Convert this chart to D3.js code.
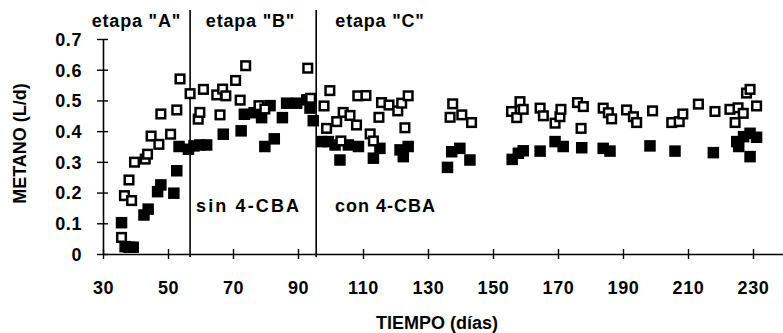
<!DOCTYPE html>
<html><head><meta charset="utf-8">
<script src="https://cdn.jsdelivr.net/npm/d3@7"></script>
<style>
body{margin:0;background:#fff}
svg{display:block}
text{font-family:"Liberation Sans",Arial,sans-serif;font-weight:bold;fill:#000}
</style>
</head><body><svg width="783" height="333"></svg>
<script>
// ---- data ----
const openDays = [35.7,36.6,38.0,38.8,39.7,43.0,43.7,44.8,47.2,47.8,50.8,52.7,53.7,56.8,
  59.3,59.8,60.9,65.0,66.0,66.8,67.8,70.8,72.2,73.9,78.0,79.8,93.0,93.9,
  98.0,98.8,99.8,101.9,103.2,103.9,106.0,108.0,108.4,110.9,112.2,113.2,114.9,115.7,118.0,120.7,121.9,122.9,123.9,
  136.8,137.6,140.4,143.4,155.7,157.3,158.3,159.3,164.5,165.5,169.1,170.6,170.9,176.0,177.1,177.8,
  183.9,185.5,186.5,191.1,193.2,194.2,199.1,205.0,207.3,208.4,213.2,218.3,222.9,224.5,225.4,227.0,228.0,229.1,231.1];
const openVals = [0.054,0.190,0.241,0.174,0.299,0.309,0.325,0.384,0.357,0.456,0.390,0.469,0.570,0.522,
  0.439,0.461,0.536,0.518,0.453,0.537,0.515,0.565,0.501,0.613,0.483,0.472,0.605,0.507,
  0.482,0.409,0.532,0.431,0.368,0.461,0.451,0.420,0.515,0.516,0.391,0.368,0.445,0.493,0.485,0.466,0.491,0.411,0.515,
  0.445,0.489,0.453,0.428,0.464,0.444,0.496,0.471,0.475,0.450,0.426,0.447,0.471,0.493,0.409,0.480,
  0.475,0.460,0.440,0.469,0.447,0.428,0.466,0.428,0.431,0.456,0.488,0.464,0.471,0.428,0.476,0.458,0.524,0.536,0.482];

const solidDays = [35.7,36.8,38.0,39.3,42.6,43.9,46.8,47.8,51.8,52.7,53.4,56.3,58.0,59.8,61.9,
  67.0,72.5,73.5,76.5,78.8,79.8,81.4,82.7,85.2,86.5,89.6,92.7,93.7,94.7,
  97.3,99.3,101.4,102.9,105.5,108.6,113.2,115.2,121.4,122.4,123.9,136.0,137.3,139.8,142.9,
  155.9,157.8,159.3,164.5,169.1,171.6,177.3,183.9,186.0,198.3,206.0,217.8,225.0,225.6,227.1,229.1,229.1,231.1];
const solidVals = [0.102,0.024,0.022,0.022,0.127,0.146,0.203,0.225,0.198,0.271,0.350,0.341,0.352,0.355,0.355,
  0.390,0.401,0.455,0.460,0.444,0.350,0.483,0.375,0.444,0.491,0.491,0.502,0.475,0.434,
  0.366,0.366,0.355,0.306,0.355,0.350,0.312,0.344,0.339,0.317,0.350,0.282,0.333,0.344,0.306,
  0.308,0.328,0.336,0.335,0.366,0.350,0.346,0.344,0.335,0.352,0.335,0.330,0.366,0.350,0.382,0.393,0.317,0.380];

const xTicks = [30,50,70,90,110,130,150,170,190,210,230];
const yTicks = [0,0.1,0.2,0.3,0.4,0.5,0.6,0.7];
const yTickLabels = ["0","0.1","0.2","0.3","0.4","0.5","0.6","0.7"];
const stageBounds = [56.8,95.6];
const stageLabels = ['etapa "A"','etapa "B"','etapa "C"'];
const treatLabels = ["sin 4-CBA","con 4-CBA"];
const xTitle = "TIEMPO (días)";
const yTitle = "METANO (L/d)";

// ---- scales ----
const svg = d3.select("svg");
const x = d3.scaleLinear().domain([30, 30 + 680/3.25]).range([103, 783]);
const y = d3.scaleLinear().domain([0, 0.7]).range([254, 39]);

// ---- axes ----
const gx = svg.append("g").attr("transform","translate(0,254)")
  .call(d3.axisBottom(x).tickValues(xTicks).tickSize(5).tickSizeOuter(0).tickPadding(22));
svg.append("g").attr("transform","translate(0,254)")
  .call(d3.axisTop(x).tickValues(xTicks).tickSize(5).tickSizeOuter(0).tickFormat(""))
  .select(".domain").remove();
const gy = svg.append("g").attr("transform","translate(103,0)")
  .call(d3.axisLeft(y).tickValues(yTicks).tickSize(6).tickSizeOuter(0).tickPadding(15)
    .tickFormat((d,i)=>yTickLabels[i]));
svg.append("g").attr("transform","translate(103,0)")
  .call(d3.axisRight(y).tickValues(yTicks).tickSize(5).tickSizeOuter(0).tickFormat(""))
  .select(".domain").remove();
svg.selectAll(".domain").attr("stroke","#000").attr("stroke-width",1.6);
svg.selectAll(".tick line").attr("stroke","#000").attr("stroke-width",1.4);
svg.selectAll(".tick text").style("font-size","18px").style("font-family",'"Liberation Sans",Arial,sans-serif')
  .style("font-weight","bold").attr("fill","#000").style("letter-spacing","0.6px");
gy.selectAll(".tick text").attr("dy","0.35em");

// ---- stage dividers ----
svg.selectAll("line.div").data(stageBounds).enter().append("line")
  .attr("class","div").attr("x1",d=>x(d)).attr("x2",d=>x(d))
  .attr("y1",10).attr("y2",257).attr("stroke","#000").attr("stroke-width",1.6);

// ---- stage labels ----
const stageCx = [136.4, 250.5, 380];
svg.selectAll("text.stage").data(stageLabels).enter().append("text")
  .attr("class","stage").attr("x",(d,i)=>stageCx[i]).attr("y",27)
  .attr("text-anchor","middle").style("font-size","18px").style("letter-spacing","0.8px").text(d=>d);

// ---- treatment labels ----
const treatX = [196, 335], treatW = [103, 100];
svg.selectAll("text.treat").data(treatLabels).enter().append("text")
  .attr("class","treat").attr("x",(d,i)=>treatX[i]).attr("y",212)
  .attr("textLength",(d,i)=>treatW[i]).attr("lengthAdjust","spacing")
  .style("font-size","18px").text(d=>d);

// ---- points ----
const solid = solidDays.map((d,i)=>({d, v:solidVals[i]}));
const open = openDays.map((d,i)=>({d, v:openVals[i]}));
const sS = 11.5, sO = 8.6;
svg.append("g").selectAll("rect").data(solid).enter().append("rect")
  .attr("x",p=>x(p.d)-sS/2).attr("y",p=>y(p.v)-sS/2)
  .attr("width",sS).attr("height",sS).attr("fill","#000");
svg.append("g").selectAll("rect").data(open).enter().append("rect")
  .attr("x",p=>x(p.d)-sO/2).attr("y",p=>y(p.v)-sO/2)
  .attr("width",sO).attr("height",sO).attr("fill","#fff")
  .attr("stroke","#000").attr("stroke-width",2.5);

// ---- titles ----
svg.append("text").attr("x",437).attr("y",329).attr("text-anchor","middle")
  .style("font-size","18px").text(xTitle);
svg.append("text").attr("transform","translate(26,143.5) rotate(-90)")
  .attr("text-anchor","middle").style("font-size","18px").text(yTitle);
</script>
</body></html>
